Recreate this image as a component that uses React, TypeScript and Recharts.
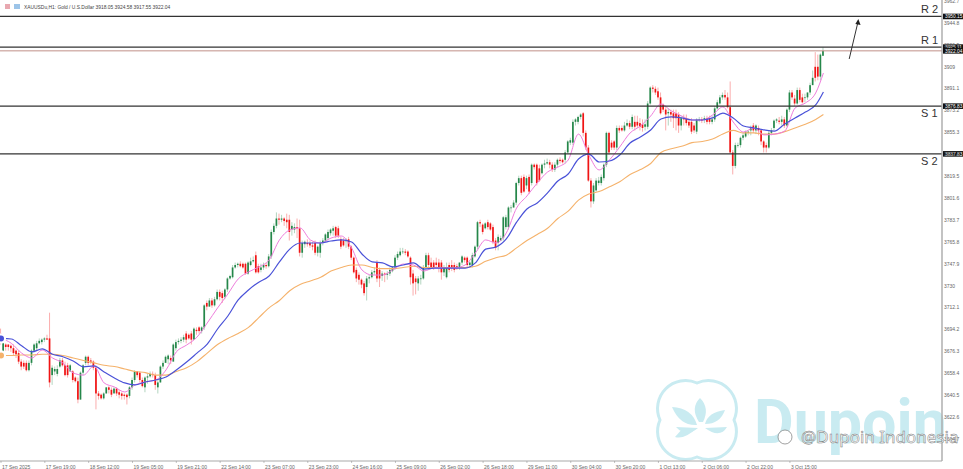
import React from 'react';
import { ComposedChart, Bar, Line, XAxis, YAxis, ReferenceLine, ReferenceDot } from 'recharts';

const opens = [
  3691,3677,3682,3682,3681,3679,3677,3675,3668,3667,3667,3661,3667,3677,3679,3683,3684,3686,3687,3687,
  3657,3660,3658,3664,3669,3665,3665,3660,3660,3655,3652,3637,3659,3667,3672,3669,3668,3663,3642,3641,
  3638,3642,3647,3645,3642,3646,3643,3642,3641,3641,3640,3647,3653,3660,3659,3653,3647,3655,3656,3658,
  3657,3647,3651,3664,3667,3670,3671,3668,3679,3684,3685,3686,3691,3690,3691,3686,3694,3696,3693,3696,
  3716,3713,3718,3714,3719,3725,3724,3721,3727,3736,3737,3745,3747,3748,3748,3748,3740,3747,3750,3755,
  3746,3743,3745,3747,3746,3754,3774,3779,3785,3784,3785,3784,3784,3776,3776,3778,3777,3757,3764,3765,
  3765,3763,3765,3757,3757,3765,3767,3769,3773,3775,3778,3777,3768,3767,3767,3768,3762,3753,3743,3739,
  3735,3732,3729,3736,3737,3741,3749,3743,3738,3740,3739,3740,3742,3745,3753,3755,3758,3758,3758,3753,
  3740,3736,3732,3736,3736,3745,3755,3749,3749,3749,3749,3749,3741,3737,3747,3747,3747,3746,3745,3749,
  3753,3753,3747,3747,3754,3762,3782,3780,3777,3782,3781,3778,3767,3765,3767,3769,3778,3778,3794,3794,
  3798,3814,3818,3819,3812,3819,3814,3829,3829,3826,3822,3829,3830,3831,3829,3825,3829,3833,3833,3833,
  3839,3847,3847,3864,3864,3868,3871,3855,3843,3816,3799,3808,3814,3814,3818,3829,3855,3847,3848,3843,
  3859,3859,3857,3861,3863,3860,3864,3864,3863,3862,3860,3860,3879,3892,3891,3889,3884,3878,3874,3871,
  3872,3871,3871,3870,3861,3867,3867,3864,3864,3861,3856,3866,3866,3866,3867,3867,3864,3866,3875,3879,
  3884,3886,3884,3876,3839,3828,3845,3845,3851,3852,3855,3857,3861,3857,3859,3857,3848,3845,3843,3855,
  3859,3865,3865,3864,3866,3861,3874,3888,3883,3879,3890,3884,3884,3884,3888,3894,3909,3909,3901,3918,
];
const closes = [
  3686,3683,3680,3680,3679,3675,3674,3668,3664,3664,3661,3667,3677,3682,3683,3685,3686,3687,3686,3651,
  3663,3662,3662,3669,3665,3657,3657,3665,3653,3652,3637,3659,3665,3672,3667,3668,3663,3642,3640,3638,
  3642,3647,3645,3641,3646,3642,3641,3640,3640,3639,3647,3653,3660,3657,3653,3648,3655,3656,3658,3657,
  3649,3651,3664,3667,3672,3673,3669,3682,3684,3685,3686,3688,3686,3687,3686,3695,3693,3693,3696,3714,
  3713,3718,3714,3719,3725,3721,3720,3727,3736,3738,3745,3747,3748,3746,3745,3740,3749,3750,3751,3741,
  3741,3745,3747,3746,3754,3774,3779,3785,3784,3785,3783,3782,3774,3779,3778,3777,3757,3765,3766,3764,
  3763,3762,3757,3762,3765,3767,3772,3774,3776,3777,3771,3771,3762,3763,3767,3762,3753,3741,3736,3735,
  3731,3724,3736,3737,3741,3742,3736,3736,3740,3739,3740,3743,3745,3753,3756,3758,3758,3757,3754,3737,
  3732,3733,3736,3736,3745,3755,3747,3745,3745,3747,3745,3741,3745,3745,3743,3745,3743,3745,3749,3754,
  3751,3747,3749,3755,3762,3782,3781,3774,3781,3778,3776,3766,3761,3770,3769,3786,3786,3794,3794,3798,
  3814,3818,3806,3807,3818,3807,3829,3827,3814,3816,3829,3830,3831,3829,3825,3829,3833,3832,3831,3839,
  3848,3849,3864,3866,3868,3870,3855,3843,3816,3799,3812,3816,3816,3819,3829,3855,3839,3843,3843,3859,
  3857,3857,3861,3863,3860,3868,3860,3861,3860,3859,3862,3879,3892,3891,3888,3884,3871,3874,3870,3872,
  3870,3867,3867,3861,3867,3866,3863,3861,3856,3857,3866,3866,3865,3867,3864,3864,3866,3875,3880,3884,
  3886,3884,3876,3839,3828,3845,3845,3851,3853,3856,3856,3859,3857,3861,3857,3848,3843,3843,3855,3857,
  3865,3866,3864,3866,3861,3874,3888,3884,3879,3890,3882,3880,3884,3888,3894,3900,3900,3901,3919,3922,
];
const highs = [
  3695,3685,3683,3682,3682,3682,3678,3677,3670,3669,3669,3669,3678,3683,3685,3687,3687,3688,3690,3708,
  3665,3664,3665,3671,3671,3668,3667,3666,3661,3656,3655,3660,3666,3673,3673,3671,3669,3665,3644,3642,
  3643,3647,3648,3647,3647,3647,3645,3643,3642,3642,3648,3655,3661,3660,3660,3655,3656,3658,3660,3660,
  3659,3653,3665,3669,3673,3674,3673,3683,3686,3687,3688,3690,3693,3691,3693,3696,3696,3697,3697,3715,
  3718,3720,3720,3721,3727,3727,3726,3728,3737,3739,3747,3749,3749,3750,3749,3749,3750,3753,3754,3758,
  3748,3748,3749,3749,3756,3776,3781,3790,3789,3788,3786,3789,3788,3782,3781,3785,3784,3767,3767,3768,
  3767,3766,3767,3763,3767,3769,3773,3776,3777,3779,3779,3779,3770,3769,3769,3770,3763,3754,3745,3741,
  3736,3734,3738,3739,3743,3745,3751,3745,3742,3741,3742,3745,3746,3755,3758,3761,3761,3760,3759,3754,
  3743,3738,3738,3739,3747,3757,3757,3753,3751,3753,3752,3751,3747,3749,3749,3751,3749,3748,3749,3755,
  3754,3754,3750,3757,3763,3783,3784,3781,3782,3784,3782,3780,3769,3772,3771,3787,3788,3795,3796,3800,
  3815,3820,3820,3821,3820,3821,3830,3830,3830,3829,3830,3833,3834,3833,3831,3831,3834,3835,3834,3841,
  3849,3851,3866,3867,3869,3871,3872,3857,3845,3818,3814,3818,3819,3821,3830,3856,3856,3849,3849,3861,
  3861,3861,3864,3866,3865,3870,3869,3869,3867,3866,3866,3881,3893,3894,3893,3892,3888,3879,3876,3875,
  3874,3874,3874,3872,3869,3870,3870,3867,3867,3863,3867,3868,3868,3869,3869,3869,3869,3877,3882,3886,
  3888,3890,3888,3897,3841,3847,3847,3852,3855,3857,3857,3861,3863,3862,3861,3858,3849,3847,3857,3859,
  3866,3867,3868,3869,3868,3875,3890,3890,3886,3892,3892,3887,3887,3888,3896,3906,3921,3919,3920,3925,
];
const lows = [
  3682,3675,3677,3677,3676,3673,3671,3666,3661,3662,3660,3660,3665,3676,3677,3682,3682,3684,3686,3647,
  3649,3657,3656,3663,3664,3656,3655,3660,3651,3651,3634,3637,3657,3665,3665,3666,3661,3629,3637,3637,
  3637,3642,3642,3639,3643,3640,3638,3637,3637,3633,3638,3645,3651,3655,3651,3647,3643,3650,3655,3655,
  3645,3642,3651,3662,3669,3666,3666,3669,3677,3682,3683,3684,3683,3686,3682,3687,3690,3691,3691,3694,
  3710,3713,3712,3713,3718,3718,3716,3719,3725,3735,3736,3744,3745,3745,3744,3739,3739,3746,3749,3740,
  3740,3741,3743,3744,3745,3752,3772,3777,3780,3782,3779,3777,3767,3771,3773,3769,3754,3753,3761,3762,
  3761,3759,3755,3754,3753,3763,3766,3767,3771,3771,3769,3769,3760,3762,3761,3760,3751,3740,3733,3731,
  3728,3722,3718,3732,3736,3739,3733,3729,3734,3733,3735,3738,3741,3743,3751,3754,3756,3755,3753,3731,
  3722,3723,3726,3731,3735,3743,3745,3744,3743,3745,3741,3735,3738,3736,3741,3742,3741,3743,3743,3747,
  3749,3745,3745,3745,3753,3760,3778,3772,3776,3776,3775,3764,3759,3759,3767,3767,3776,3776,3790,3794,
  3796,3812,3804,3806,3809,3805,3812,3825,3812,3815,3821,3826,3829,3826,3823,3823,3827,3830,3830,3830,
  3838,3845,3845,3861,3862,3866,3852,3841,3815,3794,3797,3807,3812,3812,3816,3827,3837,3841,3841,3841,
  3855,3856,3856,3860,3858,3858,3857,3859,3857,3856,3857,3858,3878,3888,3886,3882,3870,3872,3857,3861,
  3864,3859,3857,3855,3857,3861,3861,3859,3854,3855,3854,3864,3863,3863,3862,3862,3862,3864,3874,3878,
  3882,3882,3875,3838,3821,3826,3843,3843,3849,3851,3853,3853,3855,3854,3853,3845,3839,3839,3842,3853,
  3857,3863,3862,3861,3859,3860,3872,3882,3877,3878,3880,3879,3880,3882,3886,3897,3897,3898,3898,3918,
];

// moving averages, one value every 4th bar plus the last bar
const maStep = 4;
const slowMa = [
  3673,3673,3673.5,3673.5,3674,3674,3673,3671,3669,3667,3665,3664,3662,3660,3659,3657,3657,3660,3663,3668,
  3675,3682,3687,3691,3696,3704,3712,3718,3726,3731,3734,3737,3742,3745,3747,3747,3745,3744,3744,3745,
  3746,3745,3745,3745,3745,3745,3746,3750,3753,3755,3761,3767,3772,3777,3785,3791,3800,3805,3807,3811,
  3815,3821,3825,3830,3839,3842,3844,3847,3848,3850,3854,3857,3855,3855,3854,3854,3856,3859,3862,3866,3870,
];
const midMa = [
  3687,3686.5,3681,3676,3678.4,3674,3672,3668.6,3663.7,3664.5,3659.6,3654.7,3650.6,3649,3651.4,3653,3655.5,3661.2,3667.7,3675,
  3682.4,3694.7,3705.3,3718.4,3726.6,3733,3738,3749.5,3760,3765,3765,3765,3766.6,3767.5,3765.8,3756,3749.5,3748.7,3745.4,3747,
  3748.7,3743.7,3744.5,3744.5,3744.5,3744.5,3748.7,3760,3761.7,3768.3,3782,3792.8,3797.7,3805.9,3815.7,3821.4,3833.6,3837.7,3831.2,3832,
  3836.9,3846.7,3851.6,3857.4,3866.3,3868,3867.2,3865.5,3865.5,3867.2,3871.2,3867.2,3860.6,3859,3857.4,3856.5,3862.3,3867.2,3872,3877.8,3888.4,
];
const fastMa = [
  3687,3683,3675,3671,3677.5,3671,3666.9,3658.8,3657,3664.5,3650.6,3647.3,3643.2,3649,3651.4,3653,3661.2,3676,3681.6,3688,
  3699.6,3711.9,3723.3,3735.6,3741.3,3745.4,3751.1,3767.5,3775.6,3777.3,3767.5,3765,3769,3770.7,3760.9,3743,3738.8,3738.8,3743,3747.8,
  3747,3742.1,3744.6,3744.6,3744.6,3747,3756.8,3767.5,3765,3773.2,3793.6,3803.4,3814,3823,3827,3832.8,3854,3836.9,3824.7,3832.8,
  3843.5,3854.9,3860.6,3868.8,3878.6,3872.9,3868.8,3865.5,3865.5,3869.6,3876.2,3863.9,3855.7,3859,3853.3,3854,3856.5,3875.3,3879.4,3887.6,3903.9,
];

const dateLabels = [
  '17 Sep 2025','17 Sep 19:00','18 Sep 12:00','19 Sep 05:00','19 Sep 21:00','22 Sep 14:00','23 Sep 07:00','23 Sep 23:00','24 Sep 16:00',
  '25 Sep 09:00','26 Sep 02:00','26 Sep 18:00','29 Sep 11:00','30 Sep 04:00','30 Sep 20:00','1 Oct 13:00','2 Oct 06:00','2 Oct 22:00','3 Oct 15:00',
];
const dateStep = 17;
const dateTicks = dateLabels.map((_, k) => k * dateStep);

const priceTicks = [
  3962.7,3944.8,3926.9,3909.0,3891.1,3873.2,3855.3,3837.4,3819.5,3801.6,3783.7,3765.8,3747.9,3730.0,3712.1,3694.2,3676.3,3658.4,3640.5,3622.6,3604.7,
];

const levels = [
  { name: 'R 2', value: 3950.15, below: false },
  { name: 'R 1', value: 3925.11, below: false },
  { name: 'S 1', value: 3876.83, below: true },
  { name: 'S 2', value: 3837.83, below: true },
];
const lastPrice = 3922.04;
const arrowFrom = { x: 329, y: 3915.4 };
const arrowTo = { x: 332.4, y: 3945.6 };

const rows = opens.map((open, i) => {
  const k = i === opens.length - 1 ? slowMa.length - 1 : i % maStep === 0 ? i / maStep : -1;
  return {
    i,
    open,
    close: closes[i],
    high: highs[i],
    low: lows[i],
    slow: k >= 0 ? slowMa[k] : null,
    mid: k >= 0 ? midMa[k] : null,
    fast: k >= 0 ? fastMa[k] : null,
  };
});

const UP = '#25874a';
const DOWN = '#f01414';

const Candle = (props: any) => {
  const { x, y, width, height, payload } = props;
  const { open, close, high, low } = payload;
  const k = height / (high - low || 1);
  const yOf = (v: number) => y + (high - v) * k;
  const top = yOf(Math.max(open, close));
  const bodyH = Math.max(Math.abs(open - close) * k, 0.7);
  const color = close >= open ? UP : DOWN;
  const cx = x + width / 2;
  return (
    <g>
      <line x1={cx} x2={cx} y1={y} y2={y + height} stroke={color} strokeWidth={0.5} strokeOpacity={0.7} />
      <rect x={x} y={top} width={width} height={bodyH} fill={color} />
    </g>
  );
};

const DateTick = (props: any) => {
  const { x, y, payload } = props;
  return (
    <text x={x + 1} y={y + 3.5} fontSize={5} fill="#666" textAnchor="start">
      {dateLabels[payload.value / dateStep]}
    </text>
  );
};

const LevelLabel = (props: any) => {
  const { viewBox, name, value, below } = props;
  const y = viewBox.y;
  const right = viewBox.x + viewBox.width;
  return (
    <g>
      {name && (
        <text x={right - 21} y={below ? y + 11 : y - 3} fontSize={11} fill="#333" textAnchor="start" fontFamily="Liberation Sans">
          {name}
        </text>
      )}
      <rect x={right + 1} y={y - 2.8} width={20} height={5.6} fill="#111" />
      <text x={right + 3} y={y + 1.8} fontSize={4.8} fill="#fff" fontFamily="Liberation Sans">
        {value.toFixed(2)}
      </text>
    </g>
  );
};

const ArrowHead = (props: any) => {
  const { cx, cy } = props;
  return <path d={`M${cx + 0.4} ${cy - 3} L${cx + 2.6} ${cy + 3} L${cx - 2.6} ${cy + 2} Z`} fill="#222" />;
};

const Watermark = () => (
  <svg width={963} height={469} style={{ position: 'absolute', left: 0, top: 0 }}>
    <rect x={5} y={4} width={5} height={5} fill="#e8a8b0" />
    <rect x={14} y={4} width={6} height={5} fill="#9cc4e8" />
    <text x={24} y={8.5} fontSize={4.9} fill="#444" fontFamily="Liberation Sans">
      XAUUSDu,H1:  Gold / U.S.Dollar  3918.05 3924.58 3917.55 3922.04
    </text>
    <g fill="#c9ebf1">
      <path d="M697 383 A28 28 0 0 1 734 420 A28 28 0 0 1 697 457 A28 28 0 0 1 660 420 A28 28 0 0 1 697 383 Z" fill="none" stroke="#c9ebf1" strokeWidth={3} />
      <path d="M699 422 Q690 408 700 398 Q710 408 703 422 Z" />
      <path d="M697 425 Q680 426 672 407 Q692 408 697 425 Z" />
      <path d="M705 424 Q708 412 725 410 Q720 424 705 424 Z" />
      <path d="M698 428 Q686 438 676 427 Z" transform="translate(0 0)" />
      <path d="M697 428 Q684 440 675 437 L683 428 Z" />
      <path d="M705 428 L727 427 Q720 439 705 428 Z" />
      <text x={754} y={443} fontSize={61} fontWeight={700} fontFamily="Roboto">Dupoin</text>
    </g>
  </svg>
);

const Credit = () => (
  <svg width={963} height={469} style={{ position: 'absolute', left: 0, top: 0, pointerEvents: 'none' }}>
    <circle cx={785} cy={437} r={7} fill="#fff" stroke="#777" strokeWidth={0.7} />
    <text x={801} y={443} fontSize={17} fill="#fff" stroke="#777" strokeWidth={0.5} fontFamily="Noto Sans">
      @Dupoin Indonesia
    </text>
  </svg>
);

export default function App() {
  return (
    <div style={{ position: 'absolute', left: 0, top: 0, width: 963, height: 469, background: '#fff', overflow: 'hidden', fontFamily: 'Liberation Sans' }}>
      <Watermark />
      <div style={{ position: 'absolute', left: 0, top: 0 }}>
        <ComposedChart width={963} height={469} data={rows} margin={{ top: 0, right: 0, bottom: 0, left: 0 }}>
          <XAxis
            dataKey="i"
            type="number"
            domain={[-0.39, 365]}
            allowDataOverflow
            ticks={dateTicks}
            interval={0}
            height={8}
            tick={<DateTick />}
            tickSize={2}
            axisLine={{ stroke: '#aaa', strokeWidth: 1.2 }}
            tickLine={{ stroke: '#888', strokeWidth: 0.5 }}
          />
          <YAxis
            orientation="right"
            type="number"
            domain={[3586.8, 3963.6]}
            allowDataOverflow
            ticks={priceTicks}
            interval={0}
            width={21}
            tick={{ fontSize: 5, fill: '#666' }}
            tickSize={1}
            tickMargin={1}
            axisLine={{ stroke: '#aaa', strokeWidth: 1.4 }}
            tickLine={false}
          />
          <Bar dataKey={(d: any) => [d.low, d.high]} barSize={1.7} shape={<Candle />} isAnimationActive={false} />
          <Line dataKey="slow" stroke="#f5b26b" strokeWidth={1.1} dot={false} connectNulls type="monotone" isAnimationActive={false} />
          <Line dataKey="fast" stroke="#ee7ddc" strokeWidth={1} dot={false} connectNulls type="monotone" isAnimationActive={false} />
          <Line dataKey="mid" stroke="#4a52d8" strokeWidth={1.2} dot={false} connectNulls type="monotone" isAnimationActive={false} />
          {levels.map((l) => (
            <ReferenceLine
              key={l.name}
              y={l.value}
              stroke="#333"
              strokeWidth={1.3}
              label={<LevelLabel name={l.name} value={l.value} below={l.below} />}
            />
          ))}
          <ReferenceLine y={lastPrice} stroke="#c09088" strokeWidth={1} label={<LevelLabel value={lastPrice} />} />
          <ReferenceLine segment={[arrowFrom, arrowTo]} stroke="#333" strokeWidth={1} />
          <ReferenceDot x={arrowTo.x} y={arrowTo.y} r={3} shape={<ArrowHead />} />
        </ComposedChart>
      </div>
      <Credit />
    </div>
  );
}
